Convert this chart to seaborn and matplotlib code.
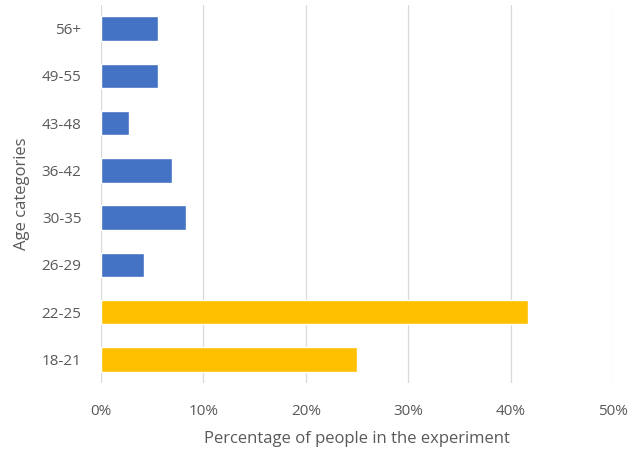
import matplotlib
matplotlib.use("Agg")
import matplotlib.pyplot as plt
import seaborn as sns
import pandas as pd
from matplotlib.ticker import PercentFormatter

# Age groups, listed top to bottom as drawn
age_groups = ["56+", "49-55", "43-48", "36-42", "30-35", "26-29", "22-25", "18-21"]
# Share of participants in each group (%)
shares = [5.56, 5.56, 2.78, 6.94, 8.33, 4.17, 41.67, 25.0]
# Highlighted (student-age) groups vs the rest
groups = ["other", "other", "other", "other", "other", "other", "young", "young"]

palette = {"other": "#4472C4", "young": "#FFC000"}
text_color = "#595959"

df = pd.DataFrame({"age": age_groups, "share": shares, "group": groups})

sns.set_theme(style="white")
plt.rcParams["font.family"] = ["Open Sans", "DejaVu Sans"]

fig = plt.figure(figsize=(6.29, 4.54), dpi=100)
ax = fig.add_axes([0.1606, 0.1564, 0.8140, 0.8326])

sns.barplot(data=df, x="share", y="age", hue="group", palette=palette,
            order=age_groups, orient="h", width=0.52, dodge=False,
            legend=False, ax=ax, saturation=1)

ax.set_xlim(0, 50)
ax.set_xticks([0, 10, 20, 30, 40, 50])
ax.xaxis.set_major_formatter(PercentFormatter(decimals=0))
ax.grid(axis="x", color="#D9D9D9", linewidth=0.9)
ax.set_axisbelow(True)
for s in ax.spines.values():
    s.set_visible(False)

ax.tick_params(axis="both", colors=text_color, labelsize=11, length=0)
ax.tick_params(axis="x", pad=15)
ax.tick_params(axis="y", pad=14)
ax.set_xlabel("Percentage of people in the experiment", color=text_color,
              fontsize=12, labelpad=9)
ax.set_ylabel("Age categories", color=text_color, fontsize=12, labelpad=8)

fig.savefig("out.png", dpi=100)
